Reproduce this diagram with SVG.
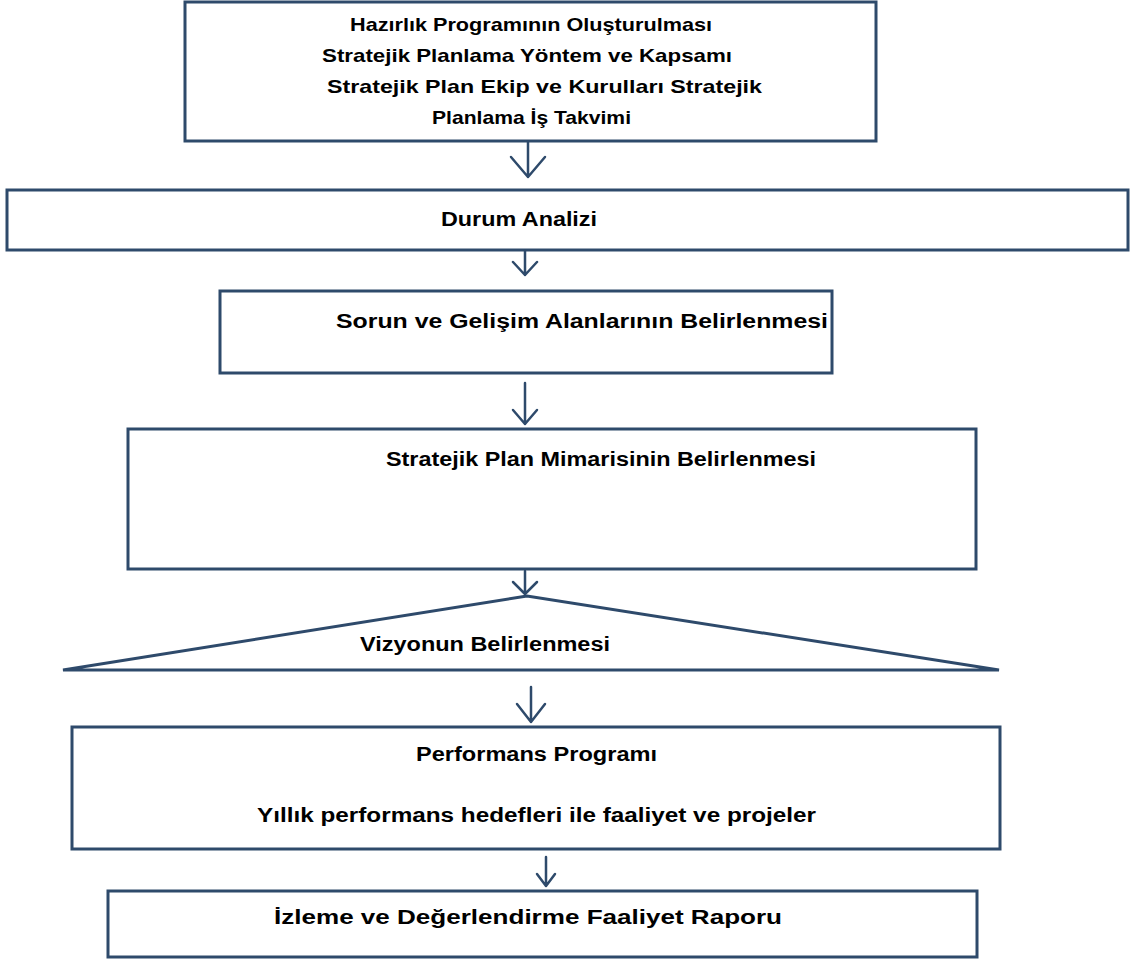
<svg xmlns="http://www.w3.org/2000/svg" width="1134" height="961" viewBox="0 0 1134 961">
<style>
.box{fill:#ffffff;stroke:#2e4a6b;stroke-width:3}
.tri{fill:none;stroke:#2e4a6b;stroke-width:3;stroke-linejoin:miter}
.lbl{font-family:"Liberation Sans",Arial,sans-serif;font-weight:bold;font-size:20px;fill:#000000}
.hd{font-size:19px}
.con{fill:none;stroke:#2e4a6b;stroke-width:2.5;stroke-linecap:round;stroke-linejoin:round}
</style>
<rect width="1134" height="961" fill="#ffffff"/>
<g id="n1">
<rect class="box" x="185" y="2" width="691" height="139"/>
<text class="lbl hd" x="350" y="31" textLength="362" lengthAdjust="spacingAndGlyphs">Hazırlık Programının Oluşturulması</text>
<text class="lbl hd" x="322" y="62" textLength="410" lengthAdjust="spacingAndGlyphs">Stratejik Planlama Yöntem ve Kapsamı</text>
<text class="lbl hd" x="327" y="93" textLength="435" lengthAdjust="spacingAndGlyphs">Stratejik Plan Ekip ve Kurulları Stratejik</text>
<text class="lbl hd" x="432" y="124" textLength="199" lengthAdjust="spacingAndGlyphs">Planlama İş Takvimi</text>
</g>
<g id="n2">
<rect class="box" x="7" y="190" width="1121" height="60"/>
<text class="lbl" style="font-size:21px" x="441" y="226" textLength="156" lengthAdjust="spacingAndGlyphs">Durum Analizi</text>
</g>
<g id="n3">
<rect class="box" x="220" y="291" width="612" height="82"/>
<text class="lbl" x="336" y="328" textLength="492" lengthAdjust="spacingAndGlyphs">Sorun ve Gelişim Alanlarının Belirlenmesi</text>
</g>
<g id="n4">
<rect class="box" x="128" y="429" width="848" height="140"/>
<text class="lbl" x="386" y="466" textLength="430" lengthAdjust="spacingAndGlyphs">Stratejik Plan Mimarisinin Belirlenmesi</text>
</g>
<g id="n5">
<polygon class="tri" points="527,596 63,670 999,670"/>
<text class="lbl" x="360" y="651" textLength="250" lengthAdjust="spacingAndGlyphs">Vizyonun Belirlenmesi</text>
</g>
<g id="n6">
<rect class="box" x="72" y="727" width="928" height="122"/>
<text class="lbl" x="416" y="761" textLength="241" lengthAdjust="spacingAndGlyphs">Performans Programı</text>
<text class="lbl" x="257" y="822" textLength="559" lengthAdjust="spacingAndGlyphs">Yıllık performans hedefleri ile faaliyet ve projeler</text>
</g>
<g id="n7">
<rect class="box" x="108" y="891" width="869" height="66"/>
<text class="lbl" x="274" y="924" textLength="508" lengthAdjust="spacingAndGlyphs">İzleme ve Değerlendirme Faaliyet Raporu</text>
</g>
<g id="connectors">
<path class="con" d="M528,142 V177 M511,157 L528,177 L545,157"/>
<path class="con" d="M525,251 V275 M513,262 L525,275 L537,262"/>
<path class="con" d="M525,383 V424 M513,410 L525,424 L537,410"/>
<path class="con" d="M525,571 V594 M513,582 L525,594 L537,582"/>
<path class="con" d="M531,687 V722 M517,704 L531,722 L545,704"/>
<path class="con" d="M546,857 V886 M537,874 L546,886 L555,874"/>
</g>
</svg>
